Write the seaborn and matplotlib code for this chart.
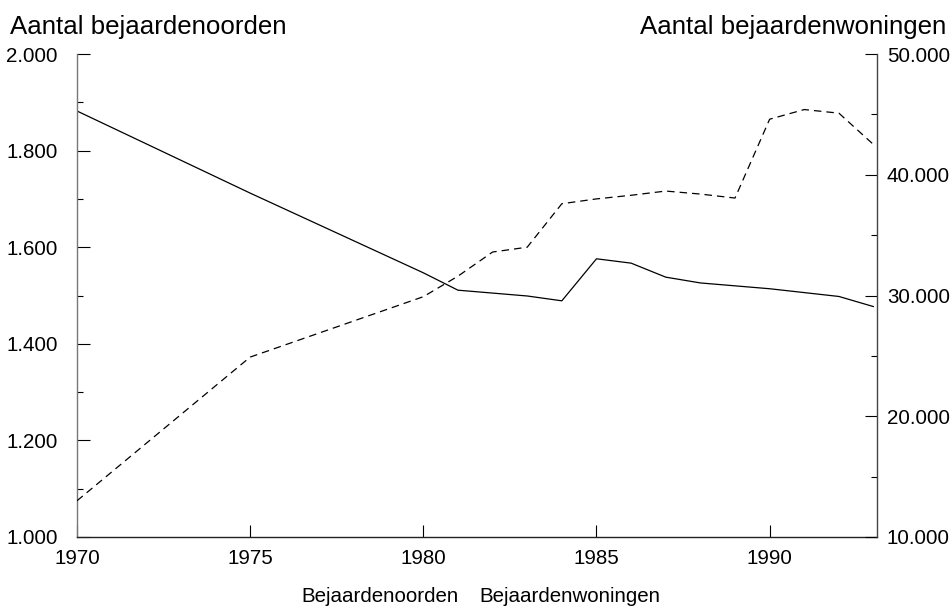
import matplotlib
matplotlib.use("Agg")
import matplotlib.pyplot as plt
import seaborn as sns
import pandas as pd
from matplotlib.ticker import MultipleLocator, FuncFormatter

years = [1970, 1975, 1980, 1981, 1982, 1983, 1984, 1985, 1986, 1987,
         1988, 1989, 1990, 1991, 1992, 1993]
oorden = [1882, 1712, 1547, 1511, 1505, 1499, 1489, 1576, 1567, 1538,
          1526, 1520, 1514, 1506, 1498, 1477]
wyears = [1970, 1975, 1980, 1981, 1982, 1983, 1984, 1985, 1986, 1987,
          1988, 1989, 1990, 1991, 1992, 1993]
woningen = [13000, 24900, 29900, 31600, 33600, 34000, 37600, 38000, 38300,
            38650, 38400, 38070, 44600, 45400, 45100, 42500]

left_title = "Aantal bejaardenoorden"
right_title = "Aantal bejaardenwoningen"
legend_labels = ["Bejaardenoorden", "Bejaardenwoningen"]

sns.set_style("ticks")
plt.rcParams['font.family'] = ['Liberation Sans', 'DejaVu Sans']
plt.rcParams['text.color'] = 'black'

df1 = pd.DataFrame({"jaar": years, "aantal": oorden})
df2 = pd.DataFrame({"jaar": wyears, "aantal": woningen})

fig = plt.figure(figsize=(9.53, 6.14), dpi=100)
ax = fig.add_axes([77/953, 1-537/614, 800/953, 483/614])
ax2 = ax.twinx()

sns.lineplot(data=df1, x="jaar", y="aantal", ax=ax, color="black", lw=0.9)
sns.lineplot(data=df2, x="jaar", y="aantal", ax=ax2, color="black", lw=0.9,
             linestyle=(0, (6, 4)))

def nl(v, pos):
    return f"{int(round(v)):,}".replace(",", ".")

ax.set_xlim(1970, 1993.1)
ax.set_ylim(1000, 2000)
ax2.set_ylim(10000, 50000)
ax.xaxis.set_major_locator(MultipleLocator(5))
ax.yaxis.set_major_locator(MultipleLocator(200))
ax.yaxis.set_minor_locator(MultipleLocator(100))
ax2.yaxis.set_major_locator(MultipleLocator(10000))
ax2.yaxis.set_minor_locator(MultipleLocator(5000))
ax.yaxis.set_major_formatter(FuncFormatter(nl))
ax2.yaxis.set_major_formatter(FuncFormatter(nl))

for a in (ax, ax2):
    a.set_xlabel("")
    a.set_ylabel("")
    a.spines['top'].set_visible(False)
    for s in a.spines.values():
        s.set_linewidth(1.0)

ax.spines['right'].set_visible(False)
ax2.spines['left'].set_visible(False)
ax2.spines['bottom'].set_visible(False)
ax.spines['left'].set_color("#777777")
ax.spines['bottom'].set_color("#222222")
ax2.spines['right'].set_color("#444444")

ax.tick_params(axis='x', direction='in', length=9, width=0.8, pad=9,
               labelsize=14.8, colors='black')
ax.tick_params(axis='y', which='major', direction='in', length=9, width=0.8,
               pad=14, labelsize=14.8, colors='black')
ax.tick_params(axis='y', which='minor', direction='in', length=4.5, width=0.8,
               colors='black')
ax2.tick_params(axis='y', which='major', direction='in', length=9, width=0.8,
                pad=7, labelsize=14.8, colors='black')
ax2.tick_params(axis='y', which='minor', direction='in', length=4.5, width=0.8,
                colors='black')

fig.text(10/953, 1-34/614, left_title, ha='left', va='baseline', fontsize=18.6,
         color='black')
fig.text(946/953, 1-34/614, right_title, ha='right', va='baseline', fontsize=18.6,
         color='black')

h1 = ax.lines[0]
h2 = ax2.lines[0]
fig.legend([h1, h2], legend_labels, loc='center', bbox_to_anchor=(0.505, 1-597/614),
           ncol=2, frameon=False, handlelength=0, handletextpad=0,
           columnspacing=1.0, fontsize=14.8, labelcolor='black')
for hl in fig.legends[0].legend_handles:
    hl.set_visible(False)

fig.savefig("out.png", dpi=100)
